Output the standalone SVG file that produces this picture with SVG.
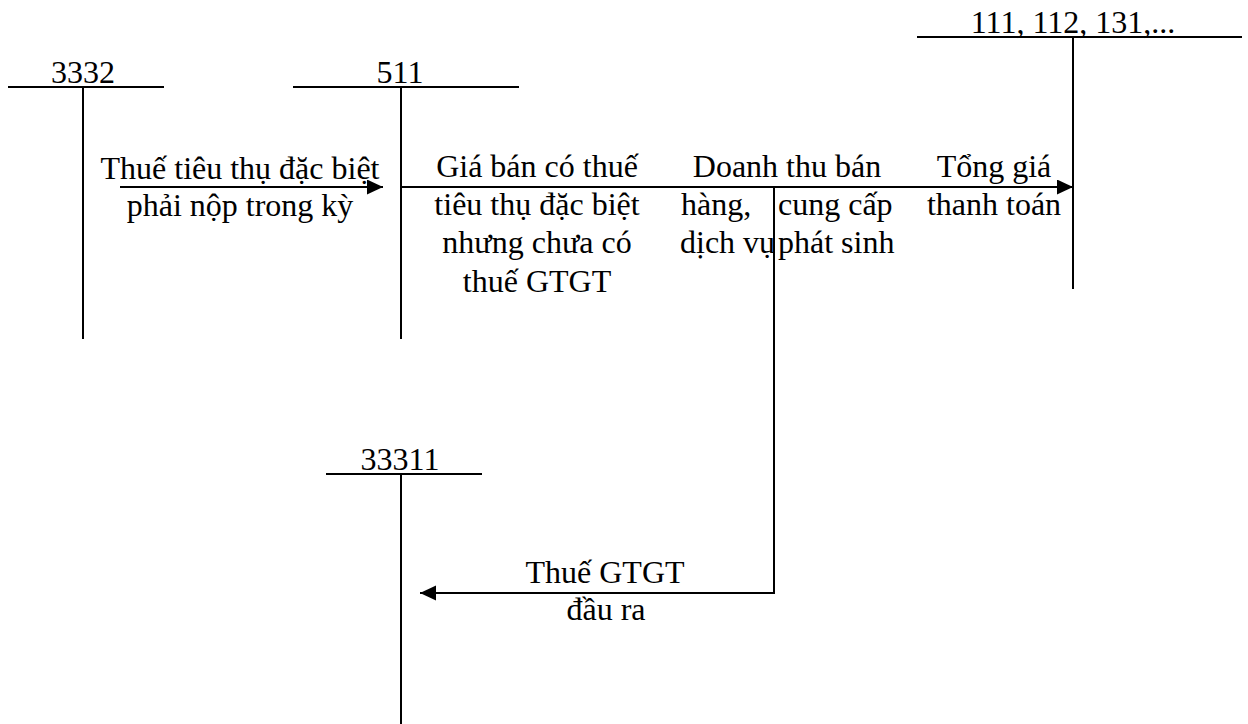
<svg xmlns="http://www.w3.org/2000/svg" width="1248" height="724" viewBox="0 0 1248 724">
  <style>
    .ln { stroke: #000; stroke-width: 2; fill: none; }
    .t { font-family: "Liberation Serif", "Times New Roman", serif; font-size: 32px; fill: #000; }
    .c { text-anchor: middle; }
  </style>
  <defs>
    <marker id="arr" markerUnits="userSpaceOnUse" markerWidth="18" markerHeight="16" refX="16" refY="7.5" orient="auto">
      <path d="M0,0 L16,7.5 L0,15 Z" fill="#000"/>
    </marker>
  </defs>
  <rect width="1248" height="724" fill="#fff"/>

  <g id="acc-3332">
    <line class="ln" x1="8" y1="87" x2="164" y2="87"/>
    <line class="ln" x1="83" y1="87" x2="83" y2="339"/>
    <text class="t c" x="83" y="83">3332</text>
  </g>

  <g id="acc-511">
    <line class="ln" x1="293" y1="87" x2="519" y2="87"/>
    <line class="ln" x1="401" y1="87" x2="401" y2="339"/>
    <text class="t c" x="400" y="83">511</text>
  </g>

  <g id="acc-111">
    <line class="ln" x1="917" y1="37" x2="1242" y2="37"/>
    <line class="ln" x1="1073" y1="37" x2="1073" y2="289"/>
    <text class="t c" x="1073" y="33">111, 112, 131,...</text>
  </g>

  <g id="acc-33311">
    <line class="ln" x1="326" y1="474" x2="482" y2="474"/>
    <line class="ln" x1="401" y1="474" x2="401" y2="724"/>
    <text class="t c" x="400" y="470">33311</text>
  </g>

  <g id="connectors">
    <line class="ln" x1="120" y1="187" x2="383" y2="187" marker-end="url(#arr)"/>
    <line class="ln" x1="401" y1="187" x2="1073" y2="187" marker-end="url(#arr)"/>
    <polyline class="ln" points="774,187 774,593 420,593" marker-end="url(#arr)"/>
  </g>

  <g id="labels">
    <text class="t c" x="240" y="179">Thuế tiêu thụ đặc biệt</text>
    <text class="t c" x="240" y="216">phải nộp trong kỳ</text>

    <text class="t c" x="537" y="177">Giá bán có thuế</text>
    <text class="t c" x="537" y="215">tiêu thụ đặc biệt</text>
    <text class="t c" x="537" y="253">nhưng chưa có</text>
    <text class="t c" x="537" y="292">thuế GTGT</text>

    <text class="t c" x="787" y="177">Doanh thu bán</text>
    <text class="t" x="681" y="215">hàng,</text>
    <text class="t" x="778" y="215">cung cấp</text>
    <text class="t" x="680" y="253">dịch vụ</text>
    <text class="t" x="778" y="253">phát sinh</text>

    <text class="t c" x="994" y="177">Tổng giá</text>
    <text class="t c" x="994" y="215">thanh toán</text>

    <text class="t c" x="605" y="583">Thuế GTGT</text>
    <text class="t c" x="606" y="620">đầu ra</text>
  </g>
</svg>
